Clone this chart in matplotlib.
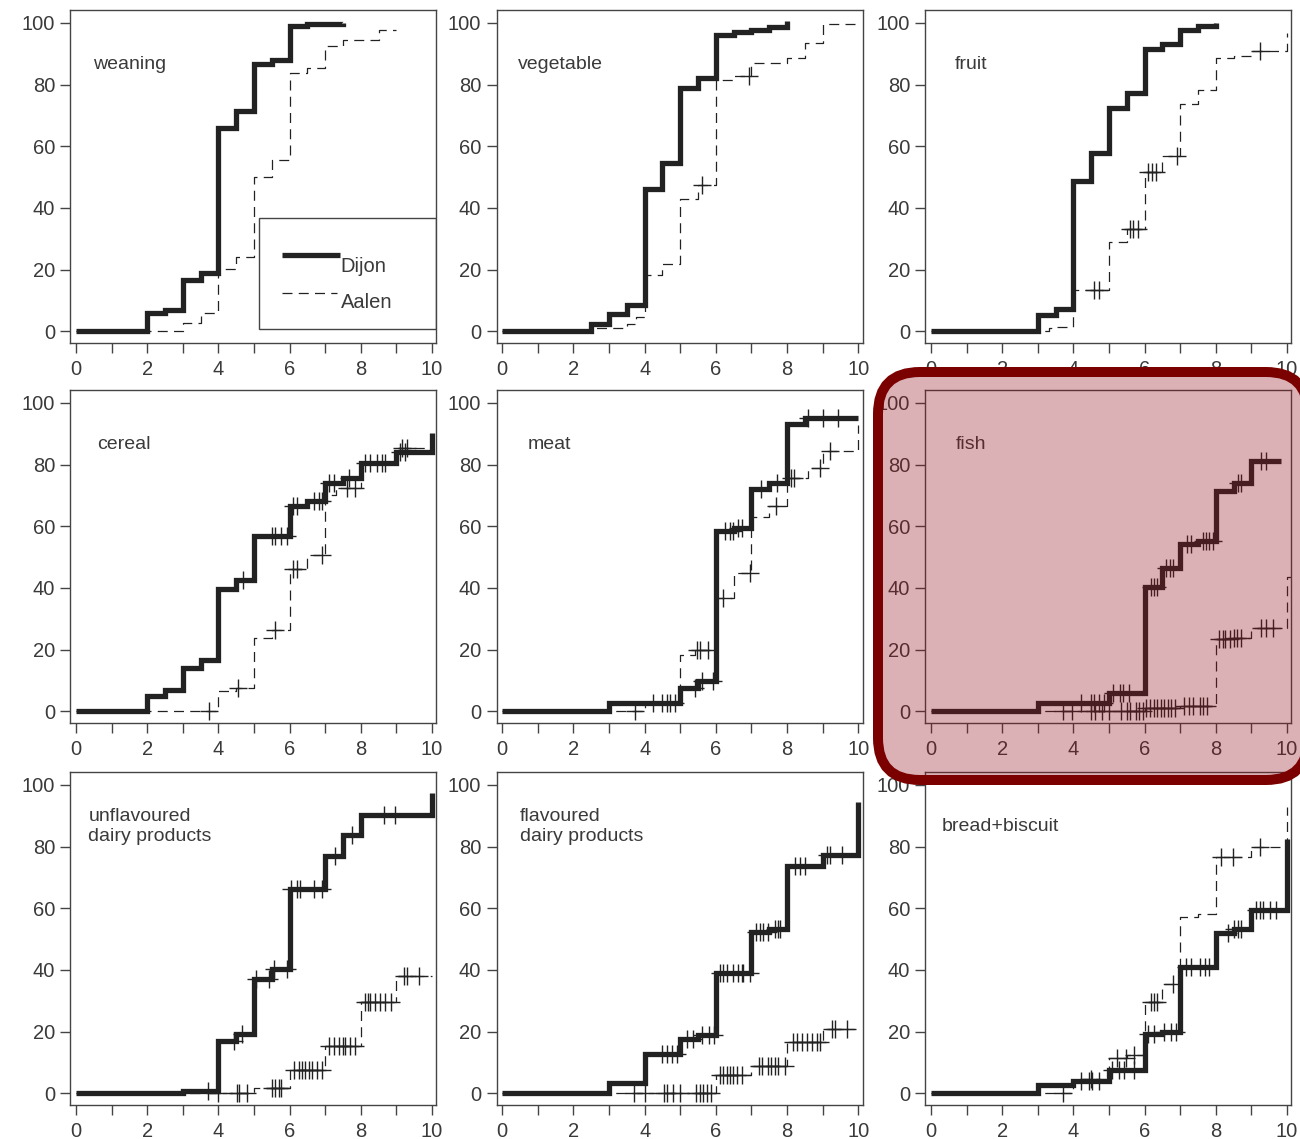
import numpy as np
import matplotlib
matplotlib.use("Agg")
import matplotlib.pyplot as plt
from matplotlib.patches import Rectangle, FancyBboxPatch
from matplotlib.transforms import IdentityTransform

plt.rcParams['font.family'] = ['Liberation Sans', 'DejaVu Sans']

# ---- data: cumulative % introduced, by age (months) ----
# each curve: step times, step values, end time, censored times
weaning_dijon_t = [0, 2, 2.5, 3, 3.5, 4, 4.5, 5, 5.5, 6, 6.5, 7.5]
weaning_dijon_p = [0, 6, 7, 16.7, 19, 66, 71.5, 86.5, 88, 99, 99.7, 100]
weaning_dijon_end = 7.5
weaning_dijon_cens = []
weaning_aalen_t = [0, 3, 3.5, 4, 4.5, 5, 5.5, 6, 6.5, 7, 7.5, 8.5]
weaning_aalen_p = [0, 2.7, 5.9, 20.3, 24.2, 50.1, 55.5, 83.8, 85.5, 92.5, 94.6, 97.7]
weaning_aalen_end = 9
weaning_aalen_cens = []

vegetable_dijon_t = [0, 2.5, 3, 3.5, 4, 4.5, 5, 5.5, 6, 6.5, 7, 7.5, 8]
vegetable_dijon_p = [0, 2.5, 5.7, 8.6, 46.1, 54.5, 79, 82.2, 96.2, 97, 97.6, 98.7, 100.5]
vegetable_dijon_end = 8
vegetable_dijon_cens = []
vegetable_aalen_t = [0, 2.5, 3.5, 3.75, 4, 4.5, 5, 5.5, 6, 6.5, 7, 8, 8.5, 9]
vegetable_aalen_p = [0, 1, 2.5, 4.6, 18.1, 21.7, 42.9, 47.5, 81.4, 82.8, 87, 88.5, 93.5, 99.5]
vegetable_aalen_end = 10
vegetable_aalen_cens = [5.6, 6.93]

fruit_dijon_t = [0, 3, 3.5, 4, 4.5, 5, 5.5, 6, 6.5, 7, 7.5, 8]
fruit_dijon_p = [0, 5.2, 7.3, 48.8, 57.8, 72.5, 77.4, 91.4, 93, 97.8, 98.9, 100]
fruit_dijon_end = 8
fruit_dijon_cens = []
fruit_aalen_t = [0, 3.3, 3.5, 4, 5, 5.5, 6, 6.5, 7, 7.5, 8, 8.5, 9, 10]
fruit_aalen_p = [0, 0.9, 1.4, 13.3, 28.9, 33.2, 51.7, 56.9, 73.6, 78.2, 88.7, 89.4, 90.8, 96.8]
fruit_aalen_end = 10
fruit_aalen_cens = [4.58, 4.72, 5.58, 5.68, 5.8, 6.1, 6.2, 6.32, 6.9, 9.25]

cereal_dijon_t = [0, 2, 2.5, 3, 3.5, 4, 4.5, 5, 6, 6.5, 7, 7.5, 8, 9, 10]
cereal_dijon_p = [0, 4.9, 7, 14.1, 16.5, 39.7, 42.5, 56.8, 66.6, 68.2, 74.1, 75.8, 80.6, 84.1, 90.4]
cereal_dijon_end = 10
cereal_dijon_cens = [4.7, 5.5, 5.6, 5.75, 5.93, 6.1, 6.22, 6.68, 6.82, 6.9, 7.1, 7.24,
                     7.66, 8.13, 8.27, 8.46, 8.6, 8.69, 9.11, 9.25]
cereal_aalen_t = [0, 4, 4.5, 5, 5.5, 6, 6.5, 7, 7.3, 8, 9]
cereal_aalen_p = [0, 6.5, 7.5, 23.8, 26.5, 46, 50.6, 70.3, 72.5, 80.5, 85.5]
cereal_aalen_end = 10
cereal_aalen_cens = [3.73, 4.55, 5.6, 6.1, 6.2, 6.9, 7.6, 7.85, 9.15, 9.3]

meat_dijon_t = [0, 3, 5, 5.5, 6, 6.5, 7, 7.5, 8, 8.5]
meat_dijon_p = [0, 2.7, 7.6, 9.7, 58.4, 59.5, 72, 74.1, 93.3, 95]
meat_dijon_end = 10
meat_dijon_cens = [4.24, 4.48, 4.62, 4.71, 4.85, 5.4, 5.6, 5.93, 6.25, 6.4, 6.49, 6.63,
                   6.72, 7.28, 7.71, 8.6, 9.0, 9.44]
meat_aalen_t = [0, 4, 5, 5.4, 6, 6.5, 7, 7.5, 8, 8.6, 9, 10]
meat_aalen_p = [0, 2.5, 18.4, 19.8, 36.8, 44.9, 63, 66.6, 75.8, 79, 84.4, 93]
meat_aalen_end = 10
meat_aalen_cens = [3.73, 5.46, 5.55, 5.79, 6.2, 6.95, 7.7, 8.1, 8.2, 8.92, 9.2]

fish_dijon_t = [0, 3, 5, 6, 6.5, 7, 7.5, 8, 8.5, 9]
fish_dijon_p = [0, 2.7, 6, 40.3, 46.4, 54.2, 55.3, 71.5, 74.2, 81.3]
fish_dijon_end = 9.84
fish_dijon_cens = [4.2, 4.48, 4.58, 4.72, 4.86, 5.1, 5.3, 5.4, 5.55, 6.17, 6.27, 6.36,
                   6.6, 6.7, 6.8, 7.2, 7.3, 7.63, 7.72, 7.82, 7.91, 8.62, 8.71, 9.28, 9.42]
fish_aalen_t = [0, 6, 7, 8, 8.5, 9, 10]
fish_aalen_p = [0, 1.0, 1.6, 23.3, 23.8, 27, 43.5]
fish_aalen_end = 10.1
fish_aalen_cens = [3.71, 3.95, 4.5, 4.6, 4.8, 5.0, 5.35, 5.5, 5.6, 5.75, 5.85, 5.95,
                   6.05, 6.15, 6.25, 6.35, 6.45, 6.55, 6.65, 6.75, 6.85, 7.1, 7.25,
                   7.35, 7.55, 7.65, 7.75, 8.1, 8.2, 8.25, 8.4, 8.5, 8.6, 8.7, 9.28,
                   9.42, 9.6]

unflav_dijon_t = [0, 3, 4, 4.5, 5, 5.5, 6, 7, 7.5, 8, 10]
unflav_dijon_p = [0, 0.8, 17, 19.2, 37.1, 40.3, 66.4, 77, 83.7, 90.2, 97.3]
unflav_dijon_end = 10
unflav_dijon_cens = [3.71, 4.43, 4.66, 5.05, 5.41, 5.55, 5.93, 6.05, 6.2, 6.3, 6.68,
                     6.91, 7.28, 7.75, 8.64, 8.97]
unflav_aalen_t = [0, 5, 6, 7, 8, 9]
unflav_aalen_p = [0, 1.6, 7.6, 15.2, 29.5, 38.2]
unflav_aalen_end = 10
unflav_aalen_cens = [4.0, 4.52, 4.57, 4.8, 5.5, 5.6, 5.7, 5.75, 6.11, 6.25, 6.35, 6.44,
                     6.54, 6.63, 6.77, 6.91, 7.1, 7.25, 7.4, 7.5, 7.55, 7.7, 7.85,
                     8.13, 8.2, 8.27, 8.41, 8.55, 8.69, 8.85, 9.2, 9.3, 9.63]

flav_dijon_t = [0, 3, 4, 5, 5.5, 6, 7, 7.5, 8, 9, 10]
flav_dijon_p = [0, 3.5, 12.7, 17.6, 19, 38.9, 52.3, 53.4, 73.6, 77.2, 94.6]
flav_dijon_end = 10
flav_dijon_cens = [4.48, 4.62, 4.76, 4.9, 5.2, 5.35, 5.6, 5.8, 5.95, 6.11, 6.2, 6.3,
                   6.49, 6.63, 6.72, 6.77, 6.96, 7.14, 7.24, 7.33, 7.47, 7.66, 7.75,
                   7.8, 8.22, 8.36, 8.5, 9.11, 9.2, 9.53]
flav_aalen_t = [0, 6, 7, 8, 9]
flav_aalen_p = [0, 5.9, 8.9, 16.5, 20.8]
flav_aalen_end = 9.95
flav_aalen_cens = [3.71, 4.0, 4.55, 4.62, 4.8, 5.0, 5.45, 5.55, 5.65, 5.75, 5.85, 6.11,
                   6.2, 6.3, 6.39, 6.49, 6.58, 6.72, 7.2, 7.3, 7.45, 7.55, 7.65, 7.75,
                   7.95, 8.18, 8.27, 8.41, 8.55, 8.69, 8.83, 8.93, 9.25, 9.34, 9.67]

bread_dijon_t = [0, 3, 4, 5, 6, 6.5, 7, 8, 8.5, 9, 10]
bread_dijon_p = [0, 2.7, 4.0, 7.5, 19.2, 20, 41.1, 52, 53.4, 59.3, 82.6]
bread_dijon_end = 10
bread_dijon_cens = [4.2, 4.44, 4.53, 4.72, 5.09, 5.28, 5.42, 5.7, 6.1, 6.25, 6.55, 6.74,
                    6.88, 7.15, 7.3, 7.55, 7.7, 7.8, 8.34, 8.52, 8.62, 8.71, 9.14,
                    9.23, 9.32, 9.51, 9.7]
bread_aalen_t = [0, 4, 5, 5.5, 6, 6.5, 7, 7.5, 8, 9, 10]
bread_aalen_p = [0, 4.5, 11.6, 12.5, 29.5, 35.5, 57.2, 58, 76.7, 80, 93]
bread_aalen_end = 10
bread_aalen_cens = [3.71, 4.5, 5.23, 5.47, 5.7, 6.17, 6.27, 6.36, 6.79, 8.15, 8.48, 9.23]

panel_labels = ['weaning', 'vegetable', 'fruit', 'cereal', 'meat', 'fish',
                'unflavoured\ndairy products', 'flavoured\ndairy products',
                'bread+biscuit']

dijon_curves = [
    (weaning_dijon_t, weaning_dijon_p, weaning_dijon_end, weaning_dijon_cens),
    (vegetable_dijon_t, vegetable_dijon_p, vegetable_dijon_end, vegetable_dijon_cens),
    (fruit_dijon_t, fruit_dijon_p, fruit_dijon_end, fruit_dijon_cens),
    (cereal_dijon_t, cereal_dijon_p, cereal_dijon_end, cereal_dijon_cens),
    (meat_dijon_t, meat_dijon_p, meat_dijon_end, meat_dijon_cens),
    (fish_dijon_t, fish_dijon_p, fish_dijon_end, fish_dijon_cens),
    (unflav_dijon_t, unflav_dijon_p, unflav_dijon_end, unflav_dijon_cens),
    (flav_dijon_t, flav_dijon_p, flav_dijon_end, flav_dijon_cens),
    (bread_dijon_t, bread_dijon_p, bread_dijon_end, bread_dijon_cens),
]
aalen_curves = [
    (weaning_aalen_t, weaning_aalen_p, weaning_aalen_end, weaning_aalen_cens),
    (vegetable_aalen_t, vegetable_aalen_p, vegetable_aalen_end, vegetable_aalen_cens),
    (fruit_aalen_t, fruit_aalen_p, fruit_aalen_end, fruit_aalen_cens),
    (cereal_aalen_t, cereal_aalen_p, cereal_aalen_end, cereal_aalen_cens),
    (meat_aalen_t, meat_aalen_p, meat_aalen_end, meat_aalen_cens),
    (fish_aalen_t, fish_aalen_p, fish_aalen_end, fish_aalen_cens),
    (unflav_aalen_t, unflav_aalen_p, unflav_aalen_end, unflav_aalen_cens),
    (flav_aalen_t, flav_aalen_p, flav_aalen_end, flav_aalen_cens),
    (bread_aalen_t, bread_aalen_p, bread_aalen_end, bread_aalen_cens),
]

INK = '#222222'
TXT = '#3a3a3a'


def draw_curve(ax, t, p, end, cens, lw, ls):
    xs = list(t) + [end]
    ys = list(p) + [p[-1]]
    ax.step(xs, ys, where='post', color=INK, lw=lw, linestyle=ls,
            solid_joinstyle='miter', solid_capstyle='butt')
    if cens:
        idx = np.searchsorted(t, cens, side='right') - 1
        cy = np.asarray(p)[idx]
        ax.plot(cens, cy, linestyle='none', marker='+', markersize=13,
                mew=1.0, color=INK, zorder=4)


fig = plt.figure(figsize=(13, 11.39), dpi=100)

col_left = [0.0541, 0.382, 0.7118]
row_bottom = [0.6989, 0.3652, 0.0298]
ax_w, ax_h = 0.2815, 0.2924
label_x = [0.47, 0.45, 0.68, 0.6, 0.7, 0.7, 0.35, 0.5, 0.3]

for i in range(9):
    r, c = divmod(i, 3)
    ax = fig.add_axes([col_left[c], row_bottom[r], ax_w, ax_h])
    draw_curve(ax, *aalen_curves[i], lw=0.9, ls=(0, (8, 5)))
    draw_curve(ax, *dijon_curves[i], lw=3.8, ls='-')

    ax.set_xlim(-0.16, 10.12)
    ax.set_ylim(-3.8, 104.2)
    ax.set_xticks([0, 2, 4, 6, 8, 10])
    ax.set_xticks([1, 3, 5, 7, 9], minor=True)
    ax.set_yticks([0, 20, 40, 60, 80, 100])
    ax.tick_params(which='both', direction='out', length=7, width=1.0,
                   color='#444444', labelcolor=TXT, labelsize=14.5)
    ax.tick_params(axis='x', pad=5)
    ax.tick_params(axis='y', pad=4)
    for s in ax.spines.values():
        s.set_color('#444444')
        s.set_linewidth(1.0)

    ax.text(label_x[i], 86.6, panel_labels[i], fontsize=14, color=TXT,
            va='center', ha='left', linespacing=1.25)

    if i == 0:
        # legend box drawn by hand
        ax.add_patch(Rectangle((5.14, 0.6), 10.12 - 5.14, 36.2, fill=False,
                               edgecolor='#444444', lw=1.0, zorder=5))
        ax.plot([5.79, 7.42], [24.6, 24.6], color=INK, lw=3.8,
                solid_capstyle='butt', zorder=5)
        ax.plot([5.8, 7.32], [12.3, 12.3], color=INK, lw=0.9,
                linestyle=(0, (8, 5)), zorder=5)
        ax.text(7.43, 21.0, 'Dijon', fontsize=14.5, color=TXT, va='center')
        ax.text(7.43, 9.4, 'Aalen', fontsize=14.5, color=TXT, va='center')

# highlight over the fish panel (pixel coordinates)
hl = FancyBboxPatch((878, 359), 430, 408,
                    boxstyle='round,pad=0,rounding_size=42',
                    transform=IdentityTransform(),
                    facecolor=(0.59, 0.08, 0.12, 0.33), edgecolor='#7b0000',
                    lw=7.2, zorder=10)
fig.patches.append(hl)

fig.savefig('out.png', dpi=100)
